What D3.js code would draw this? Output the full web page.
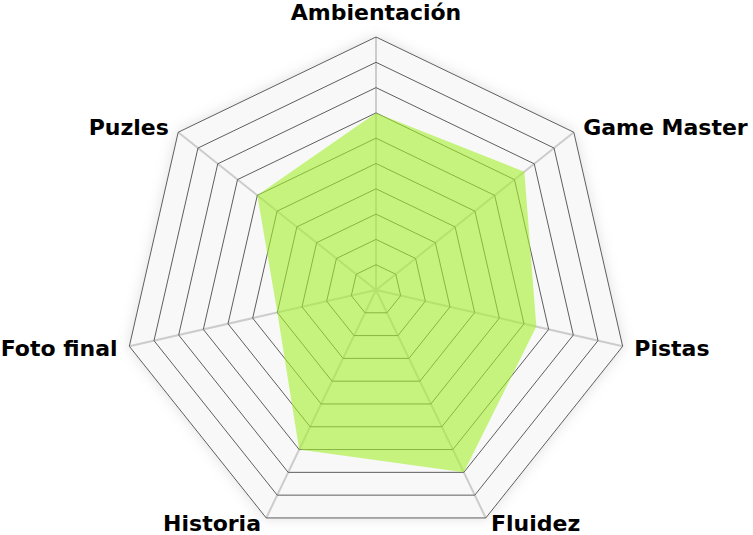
<!DOCTYPE html>
<html>
<head>
<meta charset="utf-8">
<script src="https://cdn.jsdelivr.net/npm/d3@7"></script>
<style>
  html, body { margin: 0; padding: 0; background: #fff; }
  svg { display: block; }
  .label { font-family: "DejaVu Sans", Verdana, sans-serif; font-weight: bold; font-size: 22px; fill: #000; }
</style>
</head>
<body>
<svg id="chart" width="753" height="535"></svg>
<script>
// categorias y puntuaciones (0-10)
const categories = ["Ambientación", "Game Master", "Pistas", "Fluidez", "Historia", "Foto final", "Puzles"];
const scores = [7, 7.5, 6.5, 8, 7, 4, 6];
const levels = [1, 2, 3, 4, 5, 6, 7, 8, 9, 10];

const W = 753, H = 535;
const cx = 376, cy = 290, R = 253;
const maxValue = 10;

const svg = d3.select("#chart");

const defs = svg.append("defs");
const shadow = defs.append("filter").attr("id", "glow")
  .attr("x", "-20%").attr("y", "-20%").attr("width", "140%").attr("height", "140%");
shadow.append("feGaussianBlur").attr("in", "SourceAlpha").attr("stdDeviation", 7).attr("result", "blur");
shadow.append("feFlood").attr("flood-color", "#000").attr("flood-opacity", 0.13);
shadow.append("feComposite").attr("in2", "blur").attr("operator", "in").attr("result", "shade");
const merge = shadow.append("feMerge");
merge.append("feMergeNode").attr("in", "shade");
merge.append("feMergeNode").attr("in", "SourceGraphic");

const r = d3.scaleLinear().domain([0, maxValue]).range([0, R]);
const angle = d3.scalePoint().domain(categories).range([0, 2 * Math.PI * (categories.length - 1) / categories.length]);

const pt = (cat, v) => {
  const a = angle(cat);
  return [cx + r(v) * Math.sin(a), cy - r(v) * Math.cos(a)];
};

const ring = v => categories.map(c => pt(c, v));
const closed = d3.line().curve(d3.curveLinearClosed);

const g = svg.append("g");

// fondo con sombra
g.append("path")
  .attr("d", closed(ring(maxValue)))
  .attr("fill", "#f8f8f8")
  .attr("filter", "url(#glow)");

// ejes
g.selectAll(".axis")
  .data(categories)
  .enter().append("line")
  .attr("x1", cx).attr("y1", cy)
  .attr("x2", d => pt(d, maxValue)[0])
  .attr("y2", d => pt(d, maxValue)[1])
  .attr("stroke", "#cccccc")
  .attr("stroke-width", 2);

// anillos
g.selectAll(".ring")
  .data(levels)
  .enter().append("path")
  .attr("d", d => closed(ring(d)))
  .attr("fill", "none")
  .attr("stroke", "#5e5e5e")
  .attr("stroke-width", 1);

// area de puntuaciones
g.append("path")
  .datum(categories.map((c, i) => pt(c, scores[i])))
  .attr("d", closed)
  .attr("fill", "#a4f02c")
  .attr("fill-opacity", 0.6);

// etiquetas
g.selectAll(".label")
  .data(categories)
  .enter().append("text")
  .attr("class", "label")
  .each(function(d) {
    const a = angle(d);
    const dx = Math.sin(a), dy = -Math.cos(a);
    const [vx, vy] = pt(d, maxValue);
    const el = d3.select(this);
    if (Math.abs(dx) < 0.05 && dy < 0) {
      el.attr("x", vx).attr("y", vy - 17).attr("text-anchor", "middle");
    } else {
      // abajo no cabe del todo: se sube un poco
      const yy = Math.min(vy + 9 * dy + 8, H - 4);
      el.attr("x", vx + 12 * dx)
        .attr("y", yy)
        .attr("text-anchor", dx > 0.05 ? "start" : (dx < -0.05 ? "end" : "middle"));
    }
  })
  .text(d => d);
</script>
</body>
</html>
